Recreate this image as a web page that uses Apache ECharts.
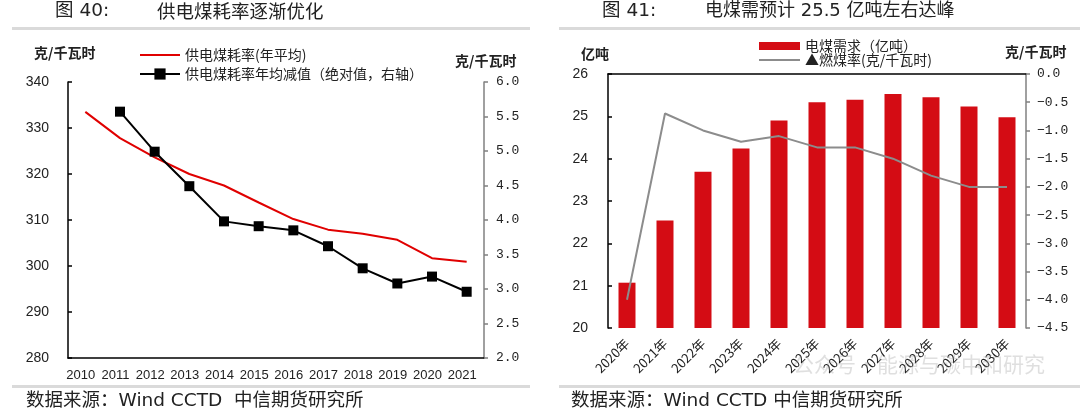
<!DOCTYPE html>
<html>
<head>
<meta charset="utf-8">
<script src="https://cdn.jsdelivr.net/npm/echarts@6/dist/echarts.min.js"></script>
<style>
  html, body { margin: 0; padding: 0; background: #fff; }
  #chart { width: 1080px; height: 414px; }
</style>
</head>
<body>
<div id="chart"></div>
<script>
// left chart: 供电煤耗率
var yearsA = ['2010', '2011', '2012', '2013', '2014', '2015', '2016', '2017', '2018', '2019', '2020', '2021'];
var coalRate = [333.5, 327.8, 323.6, 320.0, 317.5, 313.8, 310.2, 307.9, 307.0, 305.7, 301.7, 300.9];
var coalDrop = [null, 5.57, 4.99, 4.49, 3.98, 3.91, 3.85, 3.62, 3.30, 3.08, 3.18, 2.96];

// right chart: 电煤需求
var yearsB = ['2020年', '2021年', '2022年', '2023年', '2024年', '2025年', '2026年', '2027年', '2028年', '2029年', '2030年'];
var demand = [21.07, 22.54, 23.69, 24.24, 24.90, 25.33, 25.39, 25.53, 25.45, 25.23, 24.98];
var burnRate = [-4.0, -0.7, -1.0, -1.2, -1.1, -1.3, -1.3, -1.5, -1.8, -2.0, -2.0];

var CJK = '"Noto Sans CJK SC", sans-serif';
var WIDE = '"DejaVu Sans", "Noto Sans CJK SC", sans-serif';
var NUM = '"Liberation Sans", Arial, sans-serif';
var MONO = '"Liberation Mono", monospace';

function txt(x, y, text, size, opts) {
  opts = opts || {};
  return {
    type: 'text', left: x, top: y, z: 10,
    style: {
      text: text, fill: opts.fill || '#222', fontSize: size,
      fontFamily: opts.font || CJK, fontWeight: opts.bold ? 'bold' : 'normal'
    }
  };
}
function rule(x, y, w) {
  return { type: 'rect', shape: { x: x, y: y, width: w, height: 3 }, style: { fill: '#dadada' }, z: 1 };
}

function valAxis(gridIndex, min, max, interval, opts) {
  return {
    type: 'value', gridIndex: gridIndex, min: min, max: max, interval: interval,
    position: opts.position,
    splitLine: { show: false },
    axisLine: { show: true, lineStyle: { color: opts.color, width: 1.5 } },
    axisTick: { show: true, inside: opts.inside, length: 4, lineStyle: { color: opts.color, width: 1.5 } },
    axisLabel: {
      color: '#222', fontSize: opts.fontSize || 14, fontFamily: opts.font || NUM, margin: opts.margin || 8,
      formatter: opts.fmt
    }
  };
}

var oneDec = function (v) { return v.toFixed(1).replace('-', '−'); };

var chart = echarts.init(document.getElementById('chart'));

var option = {
  animation: false,
  backgroundColor: '#fff',
  grid: [
    { left: 68, top: 82, width: 416, height: 276, containLabel: false, outerBoundsMode: 'none' },
    { left: 608, top: 74, width: 418, height: 254, containLabel: false, outerBoundsMode: 'none' }
  ],
  legend: [
    {
      left: 134, top: 43, orient: 'vertical', itemWidth: 40, itemHeight: 14, itemGap: 5,
      textStyle: { fontSize: 14, fontFamily: CJK, color: '#222' },
      data: [
        { name: '供电煤耗率(年平均)', itemStyle: { opacity: 0 } },
        '供电煤耗率年均减值（绝对值，右轴）'
      ]
    },
    {
      left: 753, top: 34, orient: 'vertical', itemWidth: 41, itemHeight: 8, itemGap: 0,
      textStyle: { fontSize: 14, fontFamily: CJK, color: '#222' },
      data: [
        { name: '电煤需求（亿吨）', icon: 'rect' },
        { name: '▲燃煤率(克/千瓦时)', itemStyle: { opacity: 0 } }
      ]
    }
  ],
  xAxis: [
    {
      type: 'category', gridIndex: 0, data: yearsA, boundaryGap: true,
      axisLine: { lineStyle: { color: '#000', width: 1.5 } },
      axisTick: { inside: true, length: 5, lineStyle: { color: '#000', width: 1.5 } },
      axisLabel: { color: '#222', fontSize: 13, fontFamily: NUM, margin: 11, interval: 0, padding: [0, 9, 0, 0] }
    },
    {
      type: 'category', gridIndex: 1, data: yearsB, boundaryGap: true,
      axisLine: { lineStyle: { color: '#000', width: 1.5 } },
      axisTick: { inside: true, length: 5, lineStyle: { color: '#000', width: 1.5 } },
      axisLabel: { color: '#222', fontSize: 13, fontFamily: CJK, margin: 13, rotate: 45, interval: 0 }
    }
  ],
  yAxis: [
    valAxis(0, 280, 340, 10, { position: 'left', color: '#000', inside: true, margin: 19 }),
    valAxis(0, 2, 6, 0.5, { position: 'right', color: '#808080', inside: false, font: MONO, fontSize: 13,
      margin: 12, fmt: oneDec }),
    valAxis(1, 20, 26, 1, { position: 'left', color: '#000', inside: true, margin: 20 }),
    valAxis(1, -4.5, 0, 0.5, { position: 'right', color: '#808080', inside: false, font: MONO, fontSize: 13,
      margin: 11, fmt: oneDec })
  ],
  series: [
    {
      name: '供电煤耗率(年平均)', type: 'line', xAxisIndex: 0, yAxisIndex: 0,
      data: coalRate, symbol: 'none', lineStyle: { color: '#e00000', width: 2 }, itemStyle: { color: '#e00000' }
    },
    {
      name: '供电煤耗率年均减值（绝对值，右轴）', type: 'line', xAxisIndex: 0, yAxisIndex: 1,
      data: coalDrop, symbol: 'rect', symbolSize: 10, showSymbol: true,
      lineStyle: { color: '#000', width: 2 }, itemStyle: { color: '#000' }
    },
    {
      name: '电煤需求（亿吨）', type: 'bar', xAxisIndex: 1, yAxisIndex: 2,
      data: demand, barWidth: 17, itemStyle: { color: '#d40c14' }
    },
    {
      name: '▲燃煤率(克/千瓦时)', type: 'line', xAxisIndex: 1, yAxisIndex: 3,
      data: burnRate, symbol: 'none', lineStyle: { color: '#8c8c8c', width: 2 }, itemStyle: { color: '#8c8c8c' }
    }
  ],
  graphic: [
    txt(55, 2, '图 40:', 18.5, { font: WIDE }),
    txt(157, 2, '供电煤耗率逐渐优化', 18.5),
    rule(12, 27, 518),
    txt(602, 2, '图 41:', 18.5, { font: WIDE }),
    txt(705, 2, '电煤需预计 25.5 亿吨左右达峰', 18, { font: WIDE }),
    rule(559, 27, 521),
    txt(34, 46, '克/千瓦时', 14, { bold: true }),
    txt(455, 54, '克/千瓦时', 14, { bold: true }),
    txt(581, 47, '亿吨', 14, { bold: true }),
    txt(1005, 45, '克/千瓦时', 14, { bold: true }),
    rule(12, 385, 518),
    rule(559, 385, 521),
    txt(26, 392, '数据来源：Wind CCTD  中信期货研究所', 18.5, { font: WIDE }),
    txt(571, 392, '数据来源：Wind CCTD 中信期货研究所', 18.5, { font: WIDE }),
    txt(793, 354, '公众号·能源与碳中和研究', 21, { fill: 'rgba(150,150,150,0.3)' })
  ]
};

chart.setOption(option);
</script>
</body>
</html>
